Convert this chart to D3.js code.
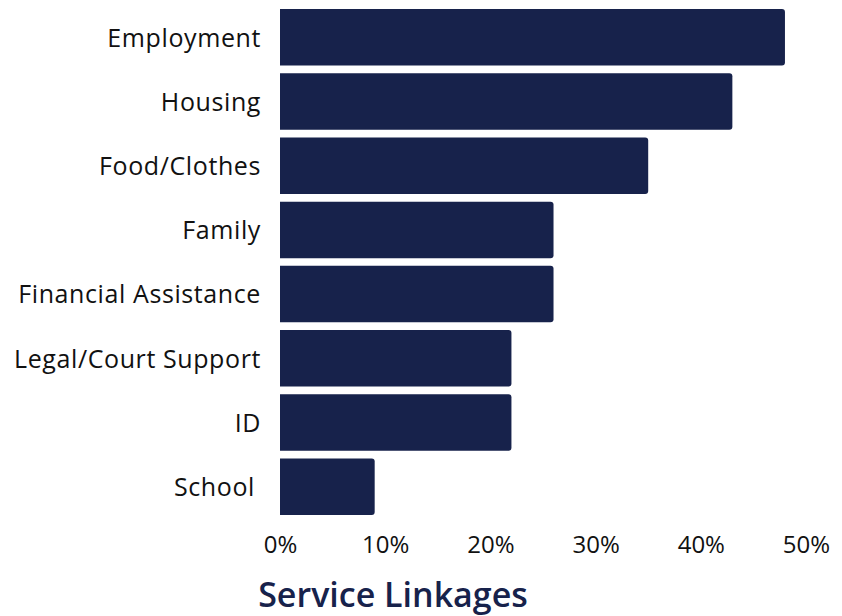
<!DOCTYPE html>
<html>
<head>
<meta charset="utf-8">
<script src="https://cdn.jsdelivr.net/npm/d3@7"></script>
<style>
  body { margin: 0; background: #fff; }
  svg { display: block; }
</style>
</head>
<body>
<div class="container"></div>
<script>
const categories = ["Employment", "Housing", "Food/Clothes", "Family", "Financial Assistance", "Legal/Court Support", "ID", "School"];
const shares = [48, 43, 35, 26, 26, 22, 22, 9];
const tickValues = [0, 10, 20, 30, 40, 50];
const chartTitle = "Service Linkages";

const width = 842, height = 616;
const navy = "#17224b";

let svg = d3.select(".container")
    .append("svg")
    .attr("width", width)
    .attr("height", height);

let x = d3.scaleLinear()
    .domain([0, 50])
    .range([280, 806]);

let y = d3.scaleBand()
    .domain(categories)
    .range([9, 515])
    .paddingInner(0.12)
    .paddingOuter(0);

// bars: square on the left, slightly rounded on the right
function barPath(x0, x1, y0, h, r) {
    return `M${x0},${y0}H${x1 - r}Q${x1},${y0} ${x1},${y0 + r}V${y0 + h - r}Q${x1},${y0 + h} ${x1 - r},${y0 + h}H${x0}Z`;
}

svg.append("g")
    .selectAll("path")
    .data(categories)
    .join("path")
    .attr("d", (d, i) => barPath(x(0), x(shares[i]), y(d), y.bandwidth(), 3))
    .attr("fill", navy);

// category labels
svg.append("g")
    .selectAll("text")
    .data(categories)
    .join("text")
    .attr("x", d => d === "School" ? 255 : 261)
    .attr("y", d => y(d) + y.bandwidth() / 2)
    .attr("dy", "0.37em")
    .attr("text-anchor", "end")
    .style("font-family", "'Open Sans', sans-serif")
    .style("font-size", "25px")
    .style("letter-spacing", "0.6px")
    .attr("fill", "#111")
    .text(d => d);

// x axis tick labels
let xAxis = d3.axisBottom(x)
    .tickValues(tickValues)
    .tickFormat(d => d + "%")
    .tickSize(0)
    .tickPadding(0);

let axisG = svg.append("g")
    .attr("transform", "translate(0,553)")
    .call(xAxis);
axisG.select(".domain").remove();
axisG.selectAll("text")
    .style("font-family", "'Open Sans', sans-serif")
    .style("font-size", "24px")
    .attr("fill", "#111")
    .attr("dy", "0");

svg.append("text")
    .attr("x", 393)
    .attr("y", 607)
    .attr("text-anchor", "middle")
    .style("font-family", "'Open Sans', sans-serif")
    .style("font-weight", "600")
    .style("font-size", "34px")
    .attr("fill", navy)
    .text(chartTitle);
</script>
</body>
</html>
